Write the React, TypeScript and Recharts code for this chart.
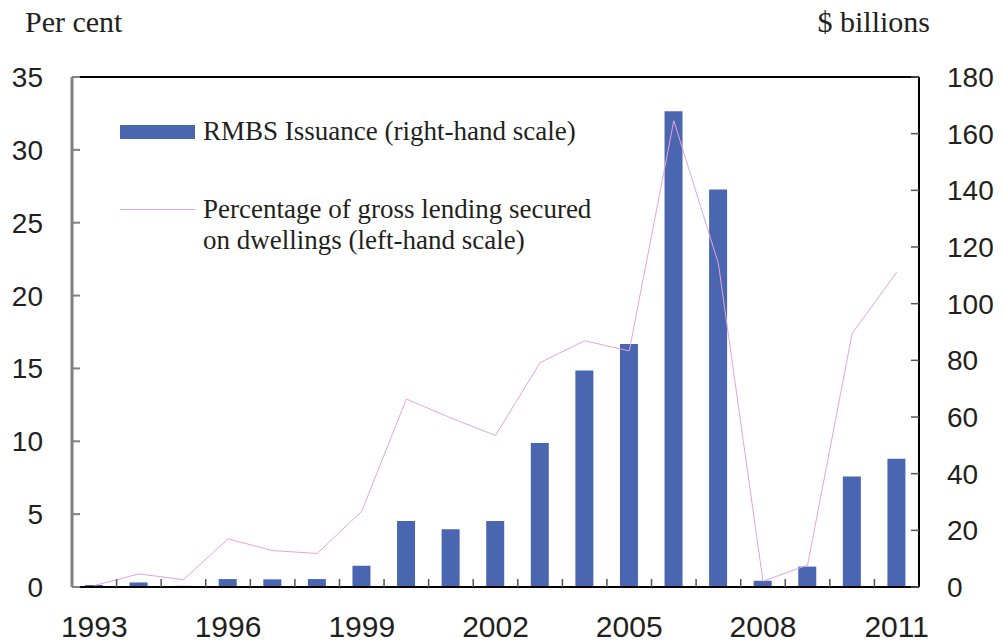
import React from 'react';
import {
  ComposedChart,
  Bar,
  Line,
  XAxis,
  YAxis,
  Legend,
  ReferenceLine,
} from 'recharts';

// chart data
const years = [
  '1993', '1994', '1995', '1996', '1997', '1998', '1999', '2000', '2001', '2002',
  '2003', '2004', '2005', '2006', '2007', '2008', '2009', '2010', '2011',
];
// RMBS issuance, $ billions (right-hand scale)
const rmbsIssuance = [
  0.7, 1.6, 0.4, 2.8, 2.7, 2.8, 7.5, 23.3, 20.4, 23.3,
  50.8, 76.4, 85.8, 167.9, 140.3, 2.2, 7.2, 39, 45.3,
];
// share of gross lending secured on dwellings, per cent (left-hand scale)
const lendingShare = [
  0.1, 0.9, 0.5, 3.3, 2.5, 2.3, 5.2, 12.9, 11.6, 10.4,
  15.4, 16.9, 16.2, 32.0, 22.2, 0.4, 1.5, 17.4, 21.6,
];
const leftTicks = [0, 5, 10, 15, 20, 25, 30, 35];
const rightTicks = [0, 20, 40, 60, 80, 100, 120, 140, 160, 180];

const chartData = years.map((year, i) => ({
  year,
  rmbs: rmbsIssuance[i],
  share: lendingShare[i],
}));

const WIDTH = 1003;
const HEIGHT = 644;
const MARGIN = { top: 77, right: 14, bottom: 17, left: 12 };
const LEFT_AXIS_W = 60;
const RIGHT_AXIS_W = 70;
const PLOT_W = WIDTH - MARGIN.left - MARGIN.right - LEFT_AXIS_W - RIGHT_AXIS_W;
const BAND = PLOT_W / years.length;

const BAR_COLOR = '#4A66B0';
const LINE_COLOR = '#E8A2D8';
const TEXT_COLOR = '#231F20';
const SANS = '"Liberation Sans", Arial, sans-serif';
const SERIF = '"Liberation Serif", "Times New Roman", serif';

const XTick = (props: any) => {
  const { x, y, index, payload } = props;
  return (
    <g>
      {index < years.length - 1 && (
        <line x1={x + BAND / 2} x2={x + BAND / 2} y1={y} y2={y - 8} stroke="#555" strokeWidth={1.5} />
      )}
      {index % 3 === 0 && (
        <text x={x} y={y + 50} textAnchor="middle" fill={TEXT_COLOR} fontFamily={SANS} fontSize={30}>
          {payload.value}
        </text>
      )}
    </g>
  );
};

const LeftTick = (props: any) => {
  const { x, y, payload } = props;
  return (
    <g>
      <line x1={x} x2={x + 8} y1={y} y2={y} stroke="#808080" strokeWidth={2} />
      <text x={x - 29} y={y + 10} textAnchor="end" fill={TEXT_COLOR} fontFamily={SANS} fontSize={28}>
        {payload.value}
      </text>
    </g>
  );
};

const RightTick = (props: any) => {
  const { x, y, payload } = props;
  return (
    <g>
      <line x1={x - 8} x2={x} y1={y} y2={y} stroke="#555" strokeWidth={1.5} />
      <text x={x + 28} y={y + 10} textAnchor="start" fill={TEXT_COLOR} fontFamily={SANS} fontSize={28}>
        {payload.value}
      </text>
    </g>
  );
};

const LegendContent = () => (
  <div style={{ fontFamily: SERIF, fontSize: 27, color: TEXT_COLOR, lineHeight: '31px' }}>
    <div style={{ display: 'flex', alignItems: 'center' }}>
      <span style={{ display: 'inline-block', width: 75, height: 14, background: BAR_COLOR, marginRight: 8 }} />
      <span>RMBS Issuance (right-hand scale)</span>
    </div>
    <div style={{ display: 'flex', alignItems: 'flex-start', marginTop: 47 }}>
      <span style={{ display: 'inline-block', width: 75, height: 1, background: LINE_COLOR, marginTop: 15, marginRight: 8 }} />
      <span>
        Percentage of gross lending secured
        <br />
        on dwellings (left-hand scale)
      </span>
    </div>
  </div>
);

const App: React.FC = () => (
  <div style={{ position: 'absolute', left: 0, top: 0, width: WIDTH, height: HEIGHT, background: '#fff' }}>
    <span
      style={{ position: 'absolute', left: 25, top: 7, fontFamily: SERIF, fontSize: 30, lineHeight: 1, color: TEXT_COLOR }}
    >
      Per cent
    </span>
    <span
      style={{ position: 'absolute', right: 73, top: 7, fontFamily: SERIF, fontSize: 30, lineHeight: 1, color: TEXT_COLOR }}
    >
      $ billions
    </span>
    <ComposedChart width={WIDTH} height={HEIGHT} data={chartData} margin={MARGIN}>
      <XAxis
        dataKey="year"
        interval={0}
        height={40}
        tickSize={0}
        tickMargin={0}
        tickLine={false}
        tick={<XTick />}
        axisLine={{ stroke: '#000', strokeWidth: 2 }}
      />
      <YAxis
        yAxisId="left"
        orientation="left"
        width={LEFT_AXIS_W}
        domain={[0, 35]}
        ticks={leftTicks}
        tickSize={0}
        tickMargin={0}
        tickLine={false}
        tick={<LeftTick />}
        axisLine={{ stroke: '#808080', strokeWidth: 3 }}
      />
      <YAxis
        yAxisId="right"
        orientation="right"
        width={RIGHT_AXIS_W}
        domain={[0, 180]}
        ticks={rightTicks}
        tickSize={0}
        tickMargin={0}
        tickLine={false}
        tick={<RightTick />}
        axisLine={{ stroke: '#000', strokeWidth: 2 }}
      />
      <ReferenceLine yAxisId="left" y={35} stroke="#000" strokeWidth={2} />
      <Legend
        layout="vertical"
        align="center"
        verticalAlign="middle"
        content={<LegendContent />}
        wrapperStyle={{ left: 120, top: 116, width: 'auto', height: 'auto', margin: 0, padding: 0 }}
      />
      <Bar
        yAxisId="right"
        dataKey="rmbs"
        name="RMBS Issuance (right-hand scale)"
        fill={BAR_COLOR}
        barSize={18}
        isAnimationActive={false}
      />
      <Line
        yAxisId="left"
        dataKey="share"
        name="Percentage of gross lending secured on dwellings (left-hand scale)"
        type="linear"
        stroke={LINE_COLOR}
        strokeWidth={1}
        dot={false}
        activeDot={false}
        isAnimationActive={false}
      />
    </ComposedChart>
  </div>
);

export default App;
